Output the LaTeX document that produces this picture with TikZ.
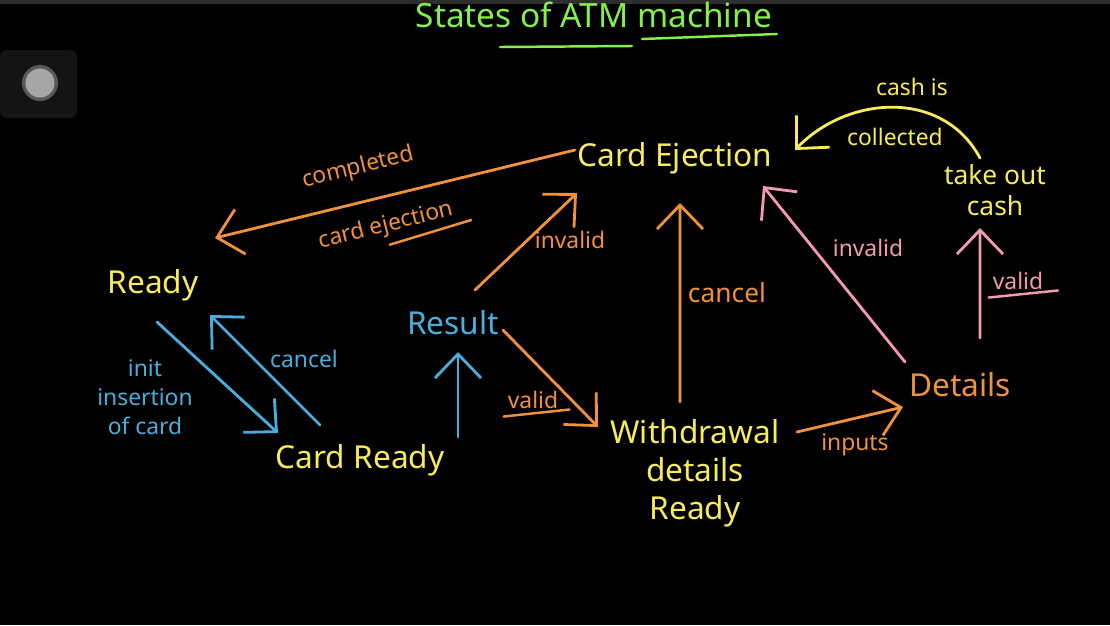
\documentclass[tikz,border=0pt]{standalone}
\usepackage{fontspec}
\setmainfont{Noto Sans}
\usetikzlibrary{arrows.meta}
\usetikzlibrary{calc}
\definecolor{chalkyellow}{HTML}{F8EC5C}
\definecolor{chalkblue}{HTML}{4AAEDC}
\definecolor{chalkorange}{HTML}{F0923C}
\definecolor{chalkpink}{HTML}{F29AB0}
\definecolor{chalkgreen}{HTML}{86F04A}

\begin{document}
\begin{tikzpicture}
\tikzstyle{state}=[inner sep=1pt,font=\fontsize{9}{10.8}\selectfont,text=chalkyellow,align=center]
\tikzstyle{edgetext}=[inner sep=1pt,font=\fontsize{6.5}{8.2}\selectfont,align=center]
\tikzstyle{move}=[line width=0.8pt,line cap=round,-{Straight Barb[length=2.4mm,width=4.6mm]}]
\tikzstyle{underline}=[line width=0.7pt,line cap=round]

% BOARD
\fill [black] (0,0) rectangle (11.1,6.25);
\fill [black!82] (0,6.21) rectangle (11.1,6.25);
% RECORD BUTTON
\fill [black!92,rounded corners=2pt] (0,5.07) rectangle (0.77,5.75);
\fill [black!65] (0.40,5.42) circle (0.18cm);
\fill [black!35] (0.40,5.42) circle (0.145cm);

% TITLE
\node (title) [anchor=base west,inner sep=0pt,font=\fontsize{9.5}{11}\selectfont,text=chalkgreen] at (4.15,5.98) {States of ATM machine};
\draw [underline,chalkgreen] ($(title.base west)+(0.85,-0.20)$) -- ($(title.base west)+(2.17,-0.19)$);
\draw [underline,chalkgreen] ($(title.base west)+(2.27,-0.12)$) -- ($(title.base west)+(3.62,-0.07)$);

% STATES
\node (ready) [state] at (1.53,3.40) {Ready};
\node (cardready) [state] at (3.60,1.65) {Card Ready};
\node (result) [state,text=chalkblue] at (4.53,3.02) {Result};
\node (ejection) [state] at (6.75,4.67) {Card Ejection};
\node (withdrawal) [state] at (6.95,1.52) {Withdrawal\\details\\Ready};
\node (details) [state,text=chalkorange] at (9.60,2.40) {Details};
\node (takeout) [state,font=\fontsize{7.5}{9}\selectfont] at (9.95,4.35) {take out\\cash};

% CARD EJECTION BACK TO READY
\draw [move,chalkorange] ($(ejection)+(-1.00,0.08)$) -- ($(ready)+(0.62,0.47)$);
\node (completed) [edgetext,text=chalkorange,rotate=14] at (3.58,4.57) {completed};
\node (cardejection) [edgetext,text=chalkorange,rotate=14] at (3.86,3.99) {card ejection};
\draw [underline,chalkorange] ([yshift=-1pt]cardejection.south) -- ([xshift=3pt,yshift=1pt]cardejection.south east);

% READY AND CARD READY
\draw [move,chalkblue] ($(ready)+(0.04,-0.37)$) -- ($(cardready)+(-0.82,0.27)$);
\draw [move,chalkblue] ($(cardready)+(-0.40,0.35)$) -- ($(ready)+(0.57,-0.30)$);
\node (insertion) [edgetext,text=chalkblue] at (1.45,2.28) {init\\insertion\\of card};
\node (cancelready) [edgetext,text=chalkblue] at (3.04,2.66) {cancel};
\draw [move,chalkblue] ($(cardready)+(0.98,0.23)$) -- ($(result)+(0.05,-0.29)$);

% RESULT
\draw [move,chalkorange] ($(result)+(0.22,0.33)$) -- ($(ejection)+(-0.98,-0.35)$);
\node (invalidresult) [edgetext,text=chalkorange] at (5.70,3.85) {invalid};
\draw [move,chalkorange] ($(result)+(0.50,-0.07)$) -- ($(withdrawal)+(-0.97,0.46)$);
\node (validresult) [edgetext,text=chalkorange] at (5.33,2.25) {valid};
\draw [underline,chalkorange] ([yshift=-1pt]validresult.south west) -- ([xshift=2pt,yshift=1pt]validresult.south east);

% WITHDRAWAL
\draw [move,chalkorange] ($(withdrawal)+(-0.15,0.71)$) -- ($(ejection)+(0.05,-0.45)$);
\node (cancelwithdrawal) [edgetext,text=chalkorange,font=\fontsize{7.5}{9}\selectfont] at (7.27,3.32) {cancel};
\draw [move,chalkorange] ($(withdrawal)+(1.02,0.41)$) -- ($(details)+(-0.57,-0.22)$);
\node (inputs) [edgetext,text=chalkorange] at (8.55,1.80) {inputs};

% DETAILS
\draw [move,chalkpink] ($(details)+(-0.55,0.23)$) -- ($(ejection)+(0.88,-0.28)$);
\node (invaliddetails) [edgetext,text=chalkpink] at (8.68,3.77) {invalid};
\draw [move,chalkpink] ($(details)+(0.20,0.47)$) -- ($(takeout)+(-0.15,-0.38)$);
\node (validdetails) [edgetext,text=chalkpink] at (10.18,3.44) {valid};
\draw [underline,chalkpink] ([yshift=-1pt]validdetails.south west) -- ([xshift=3pt,yshift=1pt]validdetails.south east);

% CASH COLLECTED
\draw [move,chalkyellow] ($(takeout)+(-0.15,0.32)$) .. controls (9.43,5.36) and (8.48,5.30) .. ($(ejection)+(1.20,0.08)$);
\node (cashis) [edgetext,text=chalkyellow] at (9.12,5.38) {cash is};
\node (collected) [edgetext,text=chalkyellow] at (8.95,4.88) {collected};
\end{tikzpicture}
\end{document}
